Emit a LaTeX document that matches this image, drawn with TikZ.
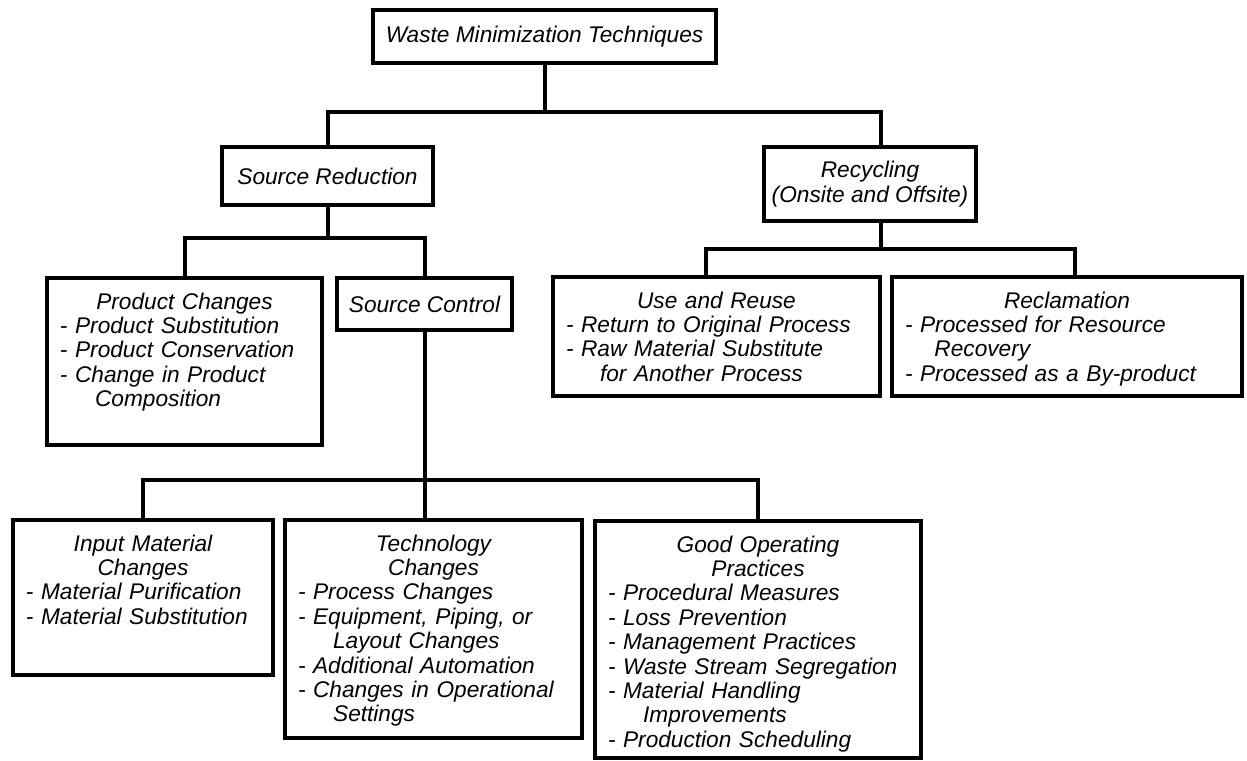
\documentclass[tikz,border=0pt]{standalone}
\usepackage{fontspec}
\setmainfont{Liberation Sans}
\newcommand\ctr[1]{\makebox[\linewidth][c]{#1}}
\newcommand\cont{\hspace*{1.55em}}
\begin{document}
\begin{tikzpicture}[x=0.75pt,y=-0.75pt,
  every node/.style={font=\itshape\fontsize{17}{18.3}\selectfont},
  box/.style={draw, line width=3.3pt, rectangle, inner sep=0pt, align=center},
  boxdim/.style 2 args={minimum width=#1, minimum height=#2},
  txt/.style={inner sep=0pt, anchor=north, align=left},
  conn/.style={line width=3pt}]
\useasboundingbox (0,0) rectangle (1247,761);

\node[box, boxdim={257.25pt}{39.75pt}] (t) at (544.5,36.5) {Waste Minimization Techniques};
\node[box, boxdim={158.25pt}{43.5pt}] (sr) at (327.5,176) {Source Reduction};
\node[box, boxdim={159pt}{55.5pt}] (re) at (870,184) {Recycling\\(Onsite and Offsite)};
\node[box, boxdim={206.25pt}{125.25pt}] (pc) at (184.5,361.5) {};
\node[box, boxdim={131.25pt}{39pt}] (sc) at (424.5,304) {Source Control};
\node[box, boxdim={245.25pt}{89.25pt}] (ur) at (716.5,336.5) {};
\node[box, boxdim={262.5pt}{89.25pt}] (rc) at (1067,336.5) {};
\node[box, boxdim={195pt}{116.25pt}] (inp) at (143,597.5) {};
\node[box, boxdim={222.75pt}{163.5pt}] (te) at (433.5,629) {};
\node[box, boxdim={244.5pt}{177.75pt}] (go) at (758,639.5) {};

\node[txt, text width=186.75pt] (pct) at ([yshift=-12.4pt]pc.north)
  {\ctr{Product Changes}\\- Product Substitution\\- Product Conservation\\- Change in Product\\\cont Composition};
\node[txt, text width=225.75pt] (urt) at ([yshift=-12.4pt]ur.north)
  {\ctr{Use and Reuse}\\- Return to Original Process\\- Raw Material Substitute\\\hspace*{1.5em}for Another Process};
\node[txt, text width=243pt] (rct) at ([yshift=-12.4pt]rc.north)
  {\ctr{Reclamation}\\- Processed for Resource\\\hspace*{1.3em}Recovery\\- Processed as a By-product};
\node[txt, text width=175.5pt] (inpt) at ([yshift=-12.4pt]inp.north)
  {\ctr{Input Material}\\\ctr{Changes}\\- Material Purification\\- Material Substitution};
\node[txt, text width=203.25pt] (tet) at ([yshift=-12.4pt]te.north)
  {\ctr{Technology}\\\ctr{Changes}\\- Process Changes\\- Equipment, Piping, or\\\cont Layout Changes\\- Additional Automation\\- Changes in Operational\\\cont Settings};
\node[txt, text width=225pt] (got) at ([yshift=-12.4pt]go.north)
  {\ctr{Good Operating}\\\ctr{Practices}\\- Procedural Measures\\- Loss Prevention\\- Management Practices\\- Waste Stream Segregation\\- Material Handling\\\cont Improvements\\- Production Scheduling};

\coordinate (j1) at (544.5,112);
\coordinate (j2) at (327.5,238);
\coordinate (j3) at (424.5,480);
\coordinate (j4) at (881,249);
\draw[conn] (t.south) -- (j1);
\draw[conn] (sr.north) |- (j1) -| ([xshift=8.25pt]re.north);
\draw[conn] (sr.south) -- (j2);
\draw[conn] (pc.north) |- (j2) -| (sc.north);
\draw[conn] (sc.south) -- (sc.south |- te.north);
\draw[conn] (inp.north) |- (j3) -| (go.north);
\draw[conn] ([xshift=8.25pt]re.south) -- (j4);
\draw[conn] ([xshift=-8.25pt]ur.north) |- (j4) -| ([xshift=6pt]rc.north);
\end{tikzpicture}
\end{document}
